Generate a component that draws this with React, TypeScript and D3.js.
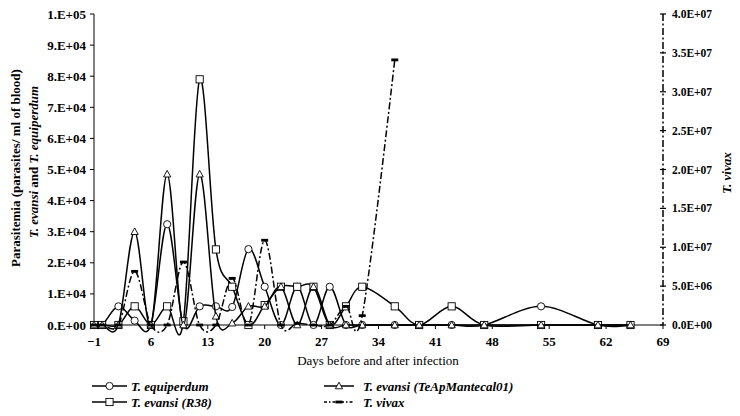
import React from "react";
import * as d3 from "d3";

const days = [-1, 0, 2, 4, 6, 8, 10, 12, 14, 16, 18, 20, 22, 24, 26, 28, 30, 32, 36, 39, 43, 47, 54, 61, 65];
const equiperdum = [0, 0, 6000, 1400, 0, 32400, 0, 6000, 6000, 5800, 24400, 12300, 0, 12300, 0, 12300, 0, 0, 0, 0, 0, 0, 6000, 0, 0];
const evansiR38 = [0, 0, 0, 6000, 0, 6000, 1200, 79000, 24300, 12300, 0, 6400, 12300, 12300, 12300, 0, 6000, 12300, 6000, 0, 6000, 0, 0, 0, 0];
const evansiMantecal = [0, 0, 0, 30000, 0, 48500, 0, 48500, 2800, 600, 6000, 6000, 12300, 0, 12300, 0, 0, 0, 0, 0, 0, 0, 0, 0, 0];
const vivaxDays = [-1, 0, 2, 4, 6, 8, 10, 12, 14, 16, 18, 20, 22, 24, 26, 28, 30, 32, 36];
const vivax = [0, 0, 0, 6.9e6, 0, 0, 8.1e6, 0, 0, 6.0e6, 0, 1.09e7, 0, 2e5, 0, 0, 2.4e6, 1.2e6, 3.41e7];

const xTicks = [-1, 6, 13, 20, 27, 34, 41, 48, 55, 62, 69];
const xTickLabels = ["\u22121", "6", "13", "20", "27", "34", "41", "48", "55", "62", "69"];
const yLeftTicks = [0, 1e4, 2e4, 3e4, 4e4, 5e4, 6e4, 7e4, 8e4, 9e4, 1e5];
const yLeftLabels = ["0.E+00", "1.E+04", "2.E+04", "3.E+04", "4.E+04", "5.E+04", "6.E+04", "7.E+04", "8.E+04", "9.E+04", "1.E+05"];
const yRightTicks = [0, 5e6, 1e7, 1.5e7, 2e7, 2.5e7, 3e7, 3.5e7, 4e7];
const yRightLabels = ["0.0E+00", "5.0E+06", "1.0E+07", "1.5E+07", "2.0E+07", "2.5E+07", "3.0E+07", "3.5E+07", "4.0E+07"];

const FONT = "'Liberation Serif', 'Times New Roman', serif";

const x = d3.scaleLinear().domain([-1, 69]).range([94, 663]);
const yL = d3.scaleLinear().domain([0, 1e5]).range([325, 14]);
const yR = d3.scaleLinear().domain([0, 4e7]).range([325, 14]);

type Pt = { d: number; v: number };
const zip = (ds: number[], vs: number[]): Pt[] => ds.map((d, i) => ({ d, v: vs[i] }));

const lineL = d3.line<Pt>().x((p) => x(p.d)).y((p) => yL(p.v)).curve(d3.curveCatmullRom.alpha(0));
const lineR = d3.line<Pt>().x((p) => x(p.d)).y((p) => yR(p.v)).curve(d3.curveCatmullRom.alpha(0));

const DASHDOT = "7,2.5,2,2.5";

function Marker({ kind, cx, cy }: { kind: string; cx: number; cy: number }) {
  if (kind === "circle") return <circle cx={cx} cy={cy} r={3.6} fill="#fff" stroke="#000" strokeWidth={0.9} />;
  if (kind === "square") return <rect x={cx - 3.6} y={cy - 3.6} width={7.2} height={7.2} fill="#fff" stroke="#000" strokeWidth={0.9} />;
  if (kind === "triangle")
    return (
      <path
        d={`M${cx},${cy - 3.8}L${cx + 3.6},${cy + 2.8}L${cx - 3.6},${cy + 2.8}Z`}
        fill="#fff"
        stroke="#000"
        strokeWidth={0.9}
      />
    );
  return <rect x={cx - 3.5} y={cy - 1.4} width={7} height={2.8} fill="#000" />;
}

export default function App() {
  const series = [
    { kind: "circle", pts: zip(days, equiperdum) },
    { kind: "square", pts: zip(days, evansiR38) },
    { kind: "triangle", pts: zip(days, evansiMantecal) },
  ];
  const vpts = zip(vivaxDays, vivax);

  return (
    <svg width={740} height={416} style={{ position: "absolute", left: 0, top: 0, background: "#fff" }} fontFamily={FONT}>
      <rect x={0} y={0} width={740} height={416} fill="#fff" />
      {/* left axis */}
      <line x1={94} x2={94} y1={14} y2={325} stroke="#000" strokeWidth={1} />
      {yLeftTicks.map((t, i) => (
        <g key={"yl" + i}>
          <line x1={90} x2={94} y1={yL(t)} y2={yL(t)} stroke="#000" />
          <text x={86} y={yL(t)} dy="0.35em" textAnchor="end" fontWeight="bold" fontSize={13}>
            {yLeftLabels[i]}
          </text>
        </g>
      ))}
      {/* right axis */}
      <line x1={663} x2={663} y1={14} y2={325} stroke="#000" strokeWidth={1.5} strokeDasharray={DASHDOT} />
      {yRightTicks.map((t, i) => (
        <g key={"yr" + i}>
          <line x1={660} x2={666} y1={yR(t)} y2={yR(t)} stroke="#000" strokeWidth={1.2} />
          <text x={672} y={yR(t)} dy="0.35em" textAnchor="start" fontWeight="bold" fontSize={11.5}>
            {yRightLabels[i]}
          </text>
        </g>
      ))}
      {/* x axis */}
      <line x1={94} x2={663} y1={325} y2={325} stroke="#000" strokeWidth={1} />
      {xTicks.map((t, i) => (
        <g key={"xt" + i}>
          <line x1={x(t)} x2={x(t)} y1={325} y2={329} stroke="#000" />
          <text x={x(t)} y={346} textAnchor="middle" fontWeight="bold" fontSize={13}>
            {xTickLabels[i]}
          </text>
        </g>
      ))}
      <text x={378} y={365} textAnchor="middle" fontSize={13}>
        Days before and after infection
      </text>
      {/* y titles */}
      <text transform="translate(19.5,168) rotate(-90)" textAnchor="middle" fontWeight="bold" fontSize={13}>
        Parasitemia (parasites/ ml of blood)
      </text>
      <text transform="translate(37.5,162) rotate(-90)" textAnchor="middle" fontWeight="bold" fontSize={13}>
        <tspan fontStyle="italic">T. evansi</tspan> and <tspan fontStyle="italic">T. equiperdum</tspan>
      </text>
      <text transform="translate(731,173) rotate(-90)" textAnchor="middle" fontWeight="bold" fontStyle="italic" fontSize={13}>
        T. vivax
      </text>
      {/* series lines + markers */}
      {series.map((s, si) => (
        <g key={"s" + si}>
          <path d={lineL(s.pts) || ""} fill="none" stroke="#000" strokeWidth={1.5} />
          {s.pts.map((p, i) => (
            <Marker key={i} kind={s.kind} cx={x(p.d)} cy={yL(p.v)} />
          ))}
        </g>
      ))}
      <g>
        <path d={lineR(vpts) || ""} fill="none" stroke="#000" strokeWidth={1.5} strokeDasharray={DASHDOT} />
        {vpts.map((p, i) => (
          <Marker key={i} kind="dash" cx={x(p.d)} cy={yR(p.v)} />
        ))}
      </g>
      {/* legend */}
      {[
        { kind: "circle", label: "T. equiperdum", x0: 92, x1: 127, y: 386, tx: 131 },
        { kind: "square", label: "T. evansi (R38)", x0: 92, x1: 127, y: 402, tx: 131 },
        { kind: "triangle", label: "T. evansi (TeApMantecal01)", x0: 324, x1: 354, y: 386, tx: 363 },
        { kind: "dash", label: "T. vivax", x0: 324, x1: 354, y: 402, tx: 363 },
      ].map((l, i) => (
        <g key={"lg" + i}>
          <line
            x1={l.x0}
            x2={l.x1}
            y1={l.y}
            y2={l.y}
            stroke="#000"
            strokeWidth={1.5}
            strokeDasharray={l.kind === "dash" ? "3,2,1.5,2" : undefined}
          />
          <Marker kind={l.kind} cx={(l.x0 + l.x1) / 2} cy={l.y} />
          <text x={l.tx} y={l.y} dy="0.35em" fontWeight="bold" fontStyle="italic" fontSize={13}>
            {l.label}
          </text>
        </g>
      ))}
    </svg>
  );
}
